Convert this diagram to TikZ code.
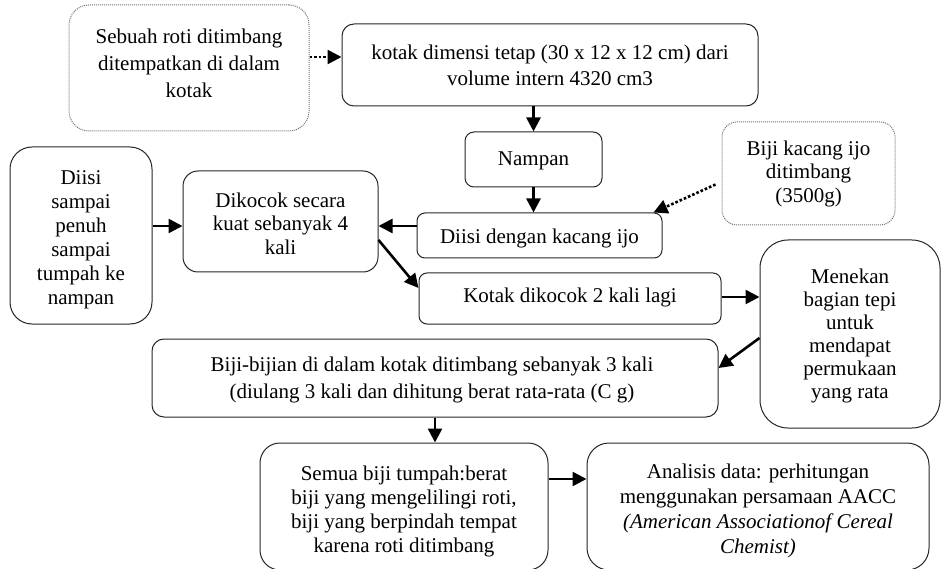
\documentclass[tikz,border=0pt]{standalone}
\usepackage{fontspec}
\setmainfont{Liberation Serif}
\usetikzlibrary{arrows.meta}
\begin{document}
\begin{tikzpicture}[x=1pt,y=-1pt,
  box/.style={draw=black!85, line width=1pt, inner sep=0pt},
  dbox/.style={draw=black!55, dash pattern=on 1pt off 1pt, line width=1pt, inner sep=0pt},
  txt/.style={align=center, inner sep=0pt, font=\fontsize{21}{24}\selectfont},
  arr/.style={line width=2.6pt, -{Triangle[length=14pt,width=14pt]}},
  darr/.style={arr, dotted}]
\useasboundingbox (0,0) rectangle (942,569);

% boxes
\node[dbox, rounded corners=20pt, minimum width=240pt, minimum height=126pt] (sebuah) at (189,68) {};
\node[box, rounded corners=12pt, minimum width=416pt, minimum height=82pt] (kotak) at (550,65) {};
\node[box, rounded corners=9pt, minimum width=137pt, minimum height=55pt] (nampan) at (533.5,159.5) {};
\node[dbox, rounded corners=15pt, minimum width=173pt, minimum height=103pt] (bijikc) at (808.5,173.5) {};
\node[box, rounded corners=8pt, minimum width=245pt, minimum height=45pt] (diisi) at (539.5,235.5) {};
\node[box, rounded corners=15pt, minimum width=195pt, minimum height=101pt] (dikocok) at (280.5,221.5) {};
\node[box, rounded corners=22pt, minimum width=142pt, minimum height=177pt] (sampai) at (81,235.5) {};
\node[box, rounded corners=8pt, minimum width=302pt, minimum height=51pt] (kotakd) at (570,298.5) {};
\node[box, rounded corners=28pt, minimum width=180pt, minimum height=188pt] (menekan) at (850,334) {};
\node[box, rounded corners=12pt, minimum width=566pt, minimum height=78pt] (bijian) at (435,378) {};
\node[box, rounded corners=20pt, minimum width=288pt, minimum height=127pt] (semua) at (404,506.5) {};
\node[box, rounded corners=22pt, minimum width=342pt, minimum height=127pt] (analisis) at (758,506.5) {};

% texts
\node[txt, font=\fontsize{21}{26.7}\selectfont] (t-sebuah) at (189,63.5) {Sebuah roti ditimbang\\ditempatkan di dalam\\kotak};
\node[txt, font=\fontsize{21}{26}\selectfont] (t-kotak) at (550,65) {kotak dimensi tetap (30 x 12 x 12 cm) dari\\volume intern 4320 cm3};
\node[txt] (t-nampan) at (533.5,161) {Nampan};
\node[txt, font=\fontsize{21}{23.5}\selectfont] (t-bijikc) at (808.5,173.5) {Biji kacang ijo\\ditimbang\\(3500g)};
\node[txt] (t-diisi) at (539.5,238) {Diisi dengan kacang ijo};
\node[txt, font=\fontsize{21}{23.5}\selectfont] (t-dikocok) at (280.5,223.5) {Dikocok secara\\kuat sebanyak 4\\kali};
\node[txt] (t-sampai) at (81,240) {Diisi\\sampai\\penuh\\sampai\\tumpah ke\\nampan};
\node[txt] (t-kotakd) at (570,297) {Kotak dikocok 2 kali lagi};
\node[txt, font=\fontsize{21}{23}\selectfont] (t-menekan) at (850,336) {Menekan\\bagian tepi\\untuk\\mendapat\\permukaan\\yang rata};
\node[txt, font=\fontsize{21}{27}\selectfont] (t-bijian) at (432,380) {Biji-bijian di dalam kotak ditimbang sebanyak 3 kali\\(diulang 3 kali dan dihitung berat rata-rata (C g)};
\node[txt] (t-semua) at (404,511) {Semua biji tumpah:berat\\biji yang mengelilingi roti,\\biji yang berpindah tempat\\karena roti ditimbang};
\node[txt, font=\fontsize{21}{25}\selectfont] (t-analisis) at (758,510.5) {Analisis data: perhitungan\\menggunakan persamaan AACC\\\textit{(American Associationof Cereal}\\\textit{Chemist)}};

% connectors
\draw[darr] (sebuah.east |- 0,57) -- (kotak.west |- 0,57);
\draw[arr] (nampan.north |- kotak.south) -- (nampan.north);
\draw[arr] (nampan.south) -- (nampan.south |- diisi.north);
\draw[darr] ([shift={(-6,11)}]bijikc.west) -- ([xshift=-9pt]diisi.north east);
\draw[arr] (diisi.west |- 0,226) -- (dikocok.east |- 0,226);
\draw[arr] (sampai.east |- 0,226) -- (dikocok.west |- 0,226);
\draw[arr] (dikocok.east |- 0,240) -- (kotakd.west |- 0,288);
\draw[arr] (kotakd.east |- 0,297) -- (menekan.west |- 0,297);
\draw[arr] (menekan.west |- 0,338) -- (bijian.east |- 0,368);
\draw[arr] (bijian.south) -- (bijian.south |- semua.north);
\draw[arr] (semua.east |- 0,479) -- (analisis.west |- 0,479);
\end{tikzpicture}
\end{document}
